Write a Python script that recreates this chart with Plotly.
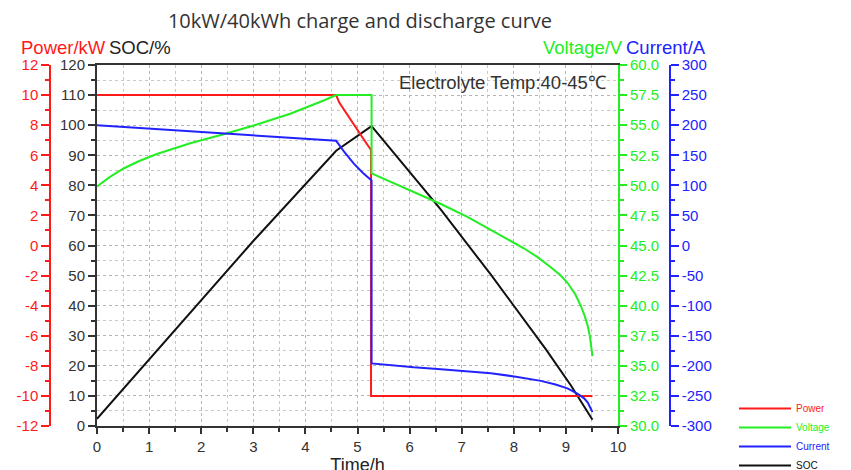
import plotly.graph_objects as go

# ---------------- data ----------------
power_t = [0, 4.59, 4.65, 4.80, 5.00, 5.15, 5.26, 5.26, 9.51]
power_kw = [10, 10, 9.5, 8.7, 7.65, 6.9, 6.35, -10, -10]

volt_t = [0, 0.1, 0.25, 0.51, 0.8, 1.15, 1.5, 1.79, 2.43, 3.07, 3.71, 4.1, 4.35, 4.59,
          5.27, 5.27, 5.8, 6.6, 7.1, 7.56, 7.9, 8.2, 8.45, 8.71, 8.9, 9.03, 9.18, 9.29,
          9.36, 9.42, 9.46, 9.49, 9.51]
volt_v = [49.9, 50.25, 50.7, 51.4, 52.0, 52.6, 53.1, 53.5, 54.25, 55.05, 55.95, 56.6,
          57.05, 57.5, 57.5, 51.0, 50.0, 48.45, 47.4, 46.3, 45.5, 44.75, 44.05, 43.2,
          42.5, 41.9, 40.95, 39.95, 39.15, 38.3, 37.45, 36.5, 35.8]

curr_t = [0, 1.0, 2.0, 3.0, 4.0, 4.59, 4.75, 4.93, 5.10, 5.27, 5.27,
          5.6, 6.08, 6.6, 7.05, 7.56, 8.04, 8.52, 8.8, 9.03, 9.22, 9.35, 9.42, 9.47, 9.51]
curr_a = [200, 194.5, 189, 183.5, 178, 174, 155, 136, 121, 108, -196,
          -199, -202.5, -205.5, -209, -212.5, -218, -225, -231, -237.5, -246,
          -254, -261, -269, -277]

soc_t = [0, 1.5, 3.0, 4.59, 5.27, 6.6, 7.56, 8.62, 9.1, 9.51]
soc_pct = [2.4, 32, 61.5, 91.5, 99.7, 71.9, 50.3, 25.4, 13.4, 2.1]

# tick labels (hyphen minus as in the reference)
power_ticks = [-12, -10, -8, -6, -4, -2, 0, 2, 4, 6, 8, 10, 12]
power_labels = ["-12", "-10", "-8", "-6", "-4", "-2", "0", "2", "4", "6", "8", "10", "12"]
current_ticks = [-300, -250, -200, -150, -100, -50, 0, 50, 100, 150, 200, 250, 300]
current_labels = ["-300", "-250", "-200", "-150", "-100", "-50", "0", "50", "100",
                  "150", "200", "250", "300"]

RED = "#ff1a1a"
GREEN = "#22ee22"
BLUE = "#2222ff"
BLACK = "#111111"
FONT = "Liberation Sans, Arial, sans-serif"

fig = go.Figure()

fig.add_trace(go.Scatter(x=soc_t, y=soc_pct, mode="lines", yaxis="y",
                         line=dict(color=BLACK, width=2),
                         name=f"<span style='color:{BLACK}'>SOC</span>",
                         legendrank=4))
fig.add_trace(go.Scatter(x=volt_t, y=volt_v, mode="lines", yaxis="y3",
                         line=dict(color=GREEN, width=2),
                         name=f"<span style='color:{GREEN}'>Voltage</span>",
                         legendrank=2))
fig.add_trace(go.Scatter(x=power_t, y=power_kw, mode="lines", yaxis="y2",
                         line=dict(color=RED, width=2),
                         name=f"<span style='color:{RED}'>Power</span>",
                         legendrank=1))
fig.add_trace(go.Scatter(x=curr_t, y=curr_a, mode="lines", yaxis="y4",
                         line=dict(color=BLUE, width=2),
                         name=f"<span style='color:{BLUE}'>Current</span>",
                         legendrank=3))

W, H = 851, 470
OFF = 8  # page body margin offset
ML, MR = 2, 2
MT = 65 - OFF
MB = H - (426 - OFF)
pw = W - ML - MR
ph = H - MT - MB


def pxx(sx):
    return (sx - OFF - ML) / pw


def py(sy):
    return (H - MB - (sy - OFF)) / ph


x0 = pxx(97)
x1 = pxx(618)
red_pos = pxx(50)
blue_pos = pxx(670)

grid = dict(showgrid=True, gridcolor="#b5b5b5", griddash="dot", gridwidth=1)

fig.update_layout(
    width=W, height=H,
    margin=dict(l=ML, r=MR, t=MT, b=MB, autoexpand=False),
    paper_bgcolor="white", plot_bgcolor="white",
    font=dict(family=FONT, size=15, color="#333"),
    title=dict(text="10kW/40kWh charge and discharge curve",
               x=(360 - OFF) / W, xref="container", xanchor="center",
               y=1 - (21 - OFF) / H, yref="container", yanchor="middle",
               font=dict(family="Open Sans, sans-serif", size=20, color="#333")),
    xaxis=dict(domain=[x0, x1], range=[0, 10], dtick=1, tick0=0, automargin=False,
               showline=True, linecolor="#333", linewidth=2, mirror=True,
               ticks="outside", ticklen=6, tickcolor="#333", tickwidth=1.5,
               zeroline=False, **grid,
               minor=dict(dtick=0.5, ticks="outside", ticklen=4, tickcolor="#333",
                          showgrid=True, gridcolor="#c8c8c8", griddash="dot"),
               title=dict(text="Time/h", font=dict(size=18, color="#222"), standoff=2)),
    yaxis=dict(range=[0, 120], dtick=10, tick0=0, automargin=False,
               showline=True, linecolor="#333", linewidth=2,
               ticks="outside", ticklen=7, tickcolor="#333", tickwidth=1.5,
               zeroline=False, **grid,
               minor=dict(dtick=5, ticks="outside", ticklen=4, tickcolor="#333",
                          showgrid=True, gridcolor="#c8c8c8", griddash="dot"),
               tickfont=dict(color="#333")),
    yaxis2=dict(overlaying="y", anchor="free", position=red_pos, side="left",
                range=[-12, 12], tickmode="array", tickvals=power_ticks,
                ticktext=power_labels, automargin=False,
                showline=True, linecolor=RED, linewidth=1.5,
                ticks="outside", ticklen=8, tickcolor=RED, tickwidth=1.5,
                minor=dict(dtick=1, ticks="outside", ticklen=4, tickcolor=RED),
                showgrid=False, zeroline=False, tickfont=dict(color=RED)),
    yaxis3=dict(overlaying="y", anchor="x", side="right", automargin=False,
                range=[30, 60], dtick=2.5, tick0=30, tickformat=".1f",
                showline=True, linecolor=GREEN, linewidth=2,
                ticks="outside", ticklen=7, tickcolor=GREEN, tickwidth=1.5,
                minor=dict(dtick=1.25, ticks="outside", ticklen=4, tickcolor=GREEN),
                showgrid=False, zeroline=False, tickfont=dict(color=GREEN)),
    yaxis4=dict(overlaying="y", anchor="free", position=blue_pos, side="right",
                range=[-300, 300], tickmode="array", tickvals=current_ticks,
                ticktext=current_labels, automargin=False,
                showline=True, linecolor=BLUE, linewidth=1.5,
                ticks="outside", ticklen=8, tickcolor=BLUE, tickwidth=1.5,
                minor=dict(dtick=25, ticks="outside", ticklen=4, tickcolor=BLUE),
                showgrid=False, zeroline=False, tickfont=dict(color=BLUE)),
    legend=dict(x=pxx(734), xanchor="left",
                y=py(394), yanchor="top",
                font=dict(size=10), bgcolor="rgba(0,0,0,0)",
                tracegroupgap=0, itemwidth=52),
    showlegend=True,
)

annots = [
    ("Power/kW", 63.5, RED),
    ("SOC/%", 140, "#222"),
    ("Voltage/V", 582.5, GREEN),
    ("Current/A", 665.5, BLUE),
]
for txt, cx, col in annots:
    fig.add_annotation(text=txt, x=pxx(cx), y=py(47), xref="paper", yref="paper",
                       xanchor="center", yanchor="middle", showarrow=False,
                       font=dict(size=18.5, color=col, family=FONT))

fig.add_annotation(text="Electrolyte Temp:40-45℃", x=pxx(608), y=py(82),
                   xref="paper", yref="paper", xanchor="right", yanchor="middle",
                   showarrow=False, font=dict(size=18.5, color="#333", family=FONT))

fig.write_html("out.html")
